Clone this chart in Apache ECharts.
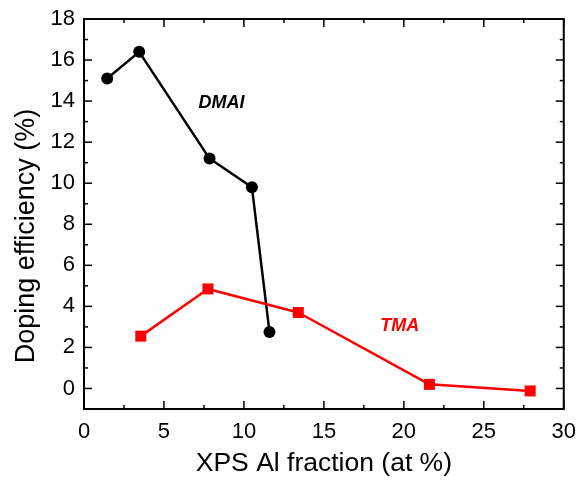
<!DOCTYPE html>
<html>
<head>
<meta charset="utf-8">
<script src="https://cdn.jsdelivr.net/npm/echarts@6/dist/echarts.min.js"></script>
<style>
  html, body { margin: 0; padding: 0; background: #fff; }
  #chart { width: 579px; height: 487px; }
</style>
</head>
<body>
<div id="chart"></div>
<script>
// Doping efficiency vs. XPS Al fraction for two Al precursors
const dmaiX = [1.45, 3.45, 7.85, 10.5, 11.6];
const dmaiY = [15.1, 16.4, 11.2, 9.8, 2.75];
const tmaX = [3.55, 7.75, 13.4, 21.6, 27.9];
const tmaY = [2.55, 4.85, 3.7, 0.2, -0.12];

const xTicks = [0, 5, 10, 15, 20, 25, 30];
const xMinorTicks = [2.5, 7.5, 12.5, 17.5, 22.5, 27.5];
const yTicks = [0, 2, 4, 6, 8, 10, 12, 14, 16, 18];
const yMinorTicks = [-1, 1, 3, 5, 7, 9, 11, 13, 15, 17];

const seriesLabels = ['DMAI', 'TMA'];
const labelAnchors = [[8.6, 13.9], [19.75, 3.05]];

const FONT = '"Liberation Sans", Arial, Helvetica, sans-serif';
const AX = '#000';
const MAJOR = 8, MINOR = 4;

const pairs = (xs, ys) => xs.map((x, i) => [x, ys[i]]);

// Frame ticks: [kind (0 = x, 1 = y), length, value]
const tickItems = [].concat(
  xTicks.map(v => [0, MAJOR, v]),
  xMinorTicks.map(v => [0, MINOR, v]),
  yTicks.map(v => [1, MAJOR, v]),
  yMinorTicks.map(v => [1, MINOR, v])
);

// Draws each tick pointing inward on both opposite sides of the plot frame
function renderTick(params, api) {
  const cs = params.coordSys;
  const kind = api.value(0);
  const len = api.value(1);
  const v = api.value(2);
  const st = { stroke: AX, lineWidth: 1.5 };
  if (kind === 0) {
    const px = api.coord([v, 0])[0];
    return {
      type: 'group',
      children: [
        { type: 'line', shape: { x1: px, y1: cs.y + cs.height, x2: px, y2: cs.y + cs.height - len }, style: st },
        { type: 'line', shape: { x1: px, y1: cs.y, x2: px, y2: cs.y + len }, style: st }
      ]
    };
  }
  const py = api.coord([0, v])[1];
  return {
    type: 'group',
    children: [
      { type: 'line', shape: { x1: cs.x, y1: py, x2: cs.x + len, y2: py }, style: st },
      { type: 'line', shape: { x1: cs.x + cs.width, y1: py, x2: cs.x + cs.width - len, y2: py }, style: st }
    ]
  };
}

const chart = echarts.init(document.getElementById('chart'), null, { renderer: 'canvas' });
chart.setOption({
  backgroundColor: '#fff',
  animation: false,
  grid: {
    left: 84, top: 19, right: 15, bottom: 78, containLabel: false,
    show: true, borderColor: AX, borderWidth: 2, backgroundColor: 'transparent'
  },
  xAxis: {
    type: 'value', min: 0, max: 30, interval: 5,
    name: 'XPS Al fraction (at %)', nameLocation: 'middle', nameGap: 41,
    nameTextStyle: { fontFamily: FONT, fontSize: 26.5, color: '#000' },
    axisLine: { show: false },
    axisTick: { show: false },
    axisLabel: { show: true, margin: 12, fontFamily: FONT, fontSize: 22, color: '#000' },
    splitLine: { show: false }
  },
  yAxis: {
    type: 'value', min: -1, max: 18,
    name: 'Doping efficiency (%)', nameLocation: 'middle', nameGap: 44,
    nameTextStyle: { fontFamily: FONT, fontSize: 27, color: '#000', padding: [0, 44, 0, 0] },
    axisLine: { show: false },
    axisTick: { show: false },
    axisLabel: { show: true, margin: 9, fontFamily: FONT, fontSize: 22, color: '#000',
      customValues: yTicks },
    splitLine: { show: false }
  },
  series: [
    {
      type: 'custom', name: 'frameTicks', silent: true, clip: false,
      renderItem: renderTick,
      data: tickItems,
      z: 5
    },
    {
      name: seriesLabels[0], type: 'line',
      data: pairs(dmaiX, dmaiY),
      symbol: 'circle', symbolSize: 12, showSymbol: true,
      lineStyle: { color: '#000', width: 2.5 },
      itemStyle: { color: '#000' },
      markPoint: {
        symbol: 'circle', symbolSize: 0, silent: true,
        label: { show: true, formatter: seriesLabels[0], fontFamily: FONT, fontSize: 18,
          fontWeight: 'bold', fontStyle: 'italic', color: '#000' },
        data: [{ coord: labelAnchors[0] }]
      }
    },
    {
      name: seriesLabels[1], type: 'line',
      data: pairs(tmaX, tmaY),
      symbol: 'rect', symbolSize: 11, showSymbol: true,
      lineStyle: { color: '#ff0000', width: 2.5 },
      itemStyle: { color: '#ff0000' },
      markPoint: {
        symbol: 'circle', symbolSize: 0, silent: true,
        label: { show: true, formatter: seriesLabels[1], fontFamily: FONT, fontSize: 18,
          fontWeight: 'bold', fontStyle: 'italic', color: '#ff0000' },
        data: [{ coord: labelAnchors[1] }]
      }
    }
  ]
});
</script>
</body>
</html>
